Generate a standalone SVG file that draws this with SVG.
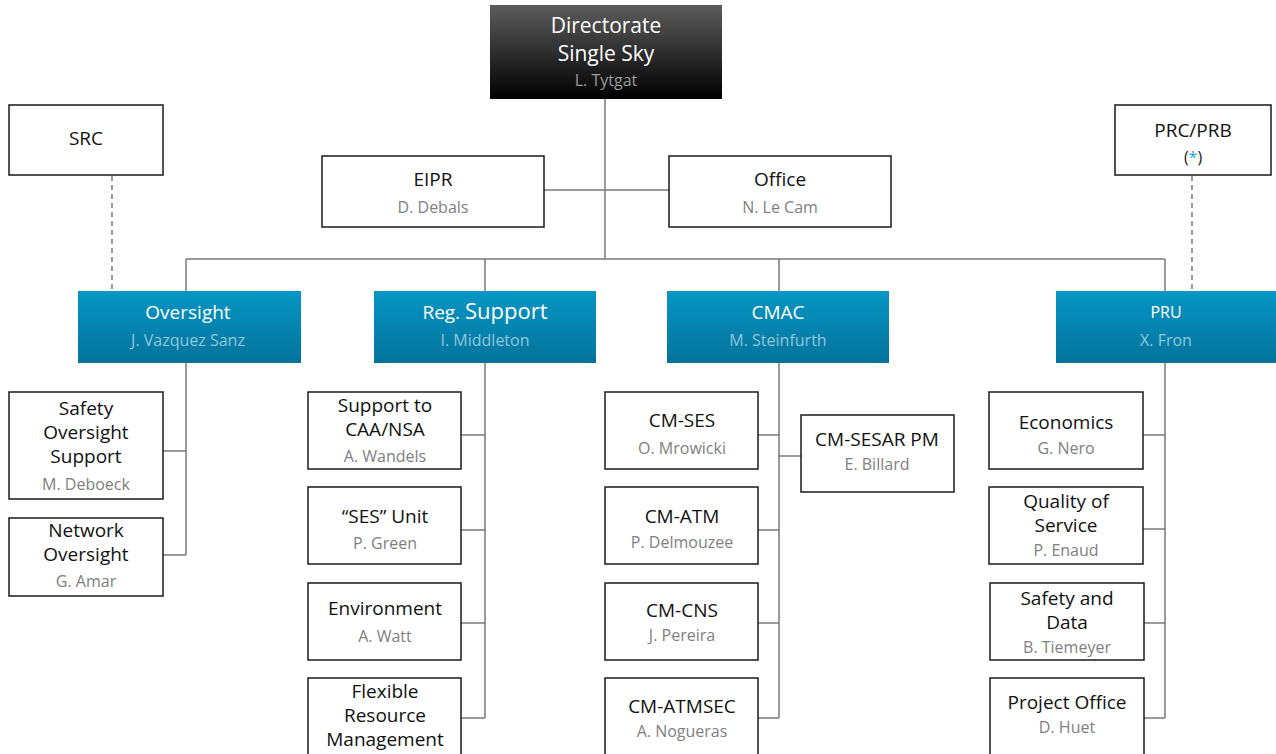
<svg xmlns="http://www.w3.org/2000/svg" width="1276" height="754" viewBox="0 0 1276 754">
<defs>
<linearGradient id="gDark" x1="0" y1="0" x2="0" y2="1"><stop offset="0" stop-color="#5c5c5c"/><stop offset="1" stop-color="#000"/></linearGradient>
<linearGradient id="gBlue" x1="0" y1="0" x2="0" y2="1"><stop offset="0" stop-color="#0796c5"/><stop offset="1" stop-color="#03739b"/></linearGradient>
<style>
text{font-family:"Open Sans","Liberation Sans",sans-serif;text-anchor:middle}
.box{fill:#fff;stroke:#1a1a1a;stroke-width:1.5}
.blue{fill:url(#gBlue)}
.t{font-size:19px;fill:#111}
.n{font-size:16px;fill:#808080}
.wt{font-size:19px;fill:#fff}
.bn{font-size:16px;fill:#93c6d9}
.ln{fill:none;stroke:#7a7a7a;stroke-width:1.5}
.dash{fill:none;stroke:#666;stroke-width:1.3;stroke-dasharray:5,4}
</style>
</defs>
<rect width="1276" height="754" fill="#fff"/>
<g id="connectors">
<path class="ln" d="M605 99V259M544 190H669M186 259H1165M186 259V291M485 259V291M779 259V291M1165 259V291"/>
<path class="dash" d="M112 176V291M1192 176V291"/>
<path class="ln" d="M186 363V555M163 451H186M163 555H186"/>
<path class="ln" d="M485 363V718M461 435H485M461 530H485M461 623H485M461 718H485"/>
<path class="ln" d="M779 363V718M758 435H779M758 530H779M758 623H779M758 718H779M779 456H801"/>
<path class="ln" d="M1165 363V718M1143 435H1165M1143 529H1165M1144 623H1165M1144 718H1165"/>
</g>
<g id="directorate"><rect x="490" y="5" width="232" height="94" fill="url(#gDark)"/><text x="606" y="33" font-size="21" fill="#fff">Directorate</text><text x="606" y="61" font-size="21" fill="#fff">Single Sky</text><text x="606" y="86" class="n" fill="#9a9a9a" style="fill:#9a9a9a">L. Tytgat</text></g>
<g id="src"><rect class="box" x="9" y="105" width="154" height="70"/><text class="t" x="86" y="145">SRC</text></g>
<g id="prc"><rect class="box" x="1115" y="105" width="156" height="70"/><text class="t" x="1193" y="137">PRC/PRB</text><text x="1193" y="163" font-size="16" fill="#222">(<tspan fill="#1ea0d8">*</tspan>)</text></g>
<g id="eipr"><rect class="box" x="322" y="156" width="222" height="71"/><text class="t" x="433" y="186">EIPR</text><text class="n" x="433" y="213">D. Debals</text></g>
<g id="office"><rect class="box" x="669" y="156" width="222" height="71"/><text class="t" x="780" y="186">Office</text><text class="n" x="780" y="213">N. Le Cam</text></g>
<g id="oversight"><rect class="blue" x="78" y="291" width="223" height="72"/><text class="wt" x="188" y="319">Oversight</text><text class="bn" x="188" y="346">J. Vazquez Sanz</text></g>
<g id="regsupport"><rect class="blue" x="374" y="291" width="222" height="72"/><text class="wt" x="485" y="319">Reg. <tspan font-size="22">Support</tspan></text><text class="bn" x="485" y="346">I. Middleton</text></g>
<g id="cmac"><rect class="blue" x="667" y="291" width="222" height="72"/><text class="wt" x="778" y="319">CMAC</text><text class="bn" x="778" y="346">M. Steinfurth</text></g>
<g id="pru"><rect class="blue" x="1056" y="291" width="222" height="72"/><text class="wt" x="1166" y="318" font-size="16" style="font-size:16px">PRU</text><text class="bn" x="1166" y="346">X. Fron</text></g>
<g id="sos"><rect class="box" x="9" y="392" width="154" height="107"/><text class="t" x="86" y="415">Safety</text><text class="t" x="86" y="439">Oversight</text><text class="t" x="86" y="463">Support</text><text class="n" x="86" y="490">M. Deboeck</text></g>
<g id="netov"><rect class="box" x="9" y="518" width="154" height="78"/><text class="t" x="86" y="537">Network</text><text class="t" x="86" y="561">Oversight</text><text class="n" x="86" y="587">G. Amar</text></g>
<g id="caa"><rect class="box" x="308" y="392" width="153" height="77"/><text class="t" x="385" y="412">Support to</text><text class="t" x="385" y="436">CAA/NSA</text><text class="n" x="385" y="462">A. Wandels</text></g>
<g id="ses"><rect class="box" x="308" y="487" width="153" height="77"/><text class="t" x="385" y="523">“SES” Unit</text><text class="n" x="385" y="549">P. Green</text></g>
<g id="env"><rect class="box" x="308" y="583" width="153" height="77"/><text class="t" x="385" y="615">Environment</text><text class="n" x="385" y="642">A. Watt</text></g>
<g id="frm"><rect class="box" x="308" y="678" width="153" height="85"/><text class="t" x="385" y="698">Flexible</text><text class="t" x="385" y="722">Resource</text><text class="t" x="385" y="746">Management</text></g>
<g id="cmses"><rect class="box" x="605" y="392" width="153" height="77"/><text class="t" x="682" y="427">CM-SES</text><text class="n" x="682" y="454">O. Mrowicki</text></g>
<g id="cmatm"><rect class="box" x="605" y="487" width="153" height="77"/><text class="t" x="682" y="523">CM-ATM</text><text class="n" x="682" y="548">P. Delmouzee</text></g>
<g id="cmcns"><rect class="box" x="605" y="583" width="153" height="77"/><text class="t" x="682" y="617">CM-CNS</text><text class="n" x="682" y="641">J. Pereira</text></g>
<g id="cmatmsec"><rect class="box" x="605" y="678" width="153" height="85"/><text class="t" x="682" y="713">CM-ATMSEC</text><text class="n" x="682" y="737">A. Nogueras</text></g>
<g id="cmsesar"><rect class="box" x="801" y="415" width="153" height="77"/><text class="t" x="877" y="446">CM-SESAR PM</text><text class="n" x="877" y="470">E. Billard</text></g>
<g id="econ"><rect class="box" x="989" y="392" width="154" height="77"/><text class="t" x="1066" y="429">Economics</text><text class="n" x="1066" y="454">G. Nero</text></g>
<g id="qos"><rect class="box" x="989" y="487" width="154" height="77"/><text class="t" x="1066" y="508">Quality of</text><text class="t" x="1066" y="532">Service</text><text class="n" x="1066" y="556">P. Enaud</text></g>
<g id="sad"><rect class="box" x="990" y="583" width="154" height="77"/><text class="t" x="1067" y="605">Safety and</text><text class="t" x="1067" y="629">Data</text><text class="n" x="1067" y="653">B. Tiemeyer</text></g>
<g id="po"><rect class="box" x="990" y="678" width="154" height="85"/><text class="t" x="1067" y="709">Project Office</text><text class="n" x="1067" y="733">D. Huet</text></g>
</svg>
